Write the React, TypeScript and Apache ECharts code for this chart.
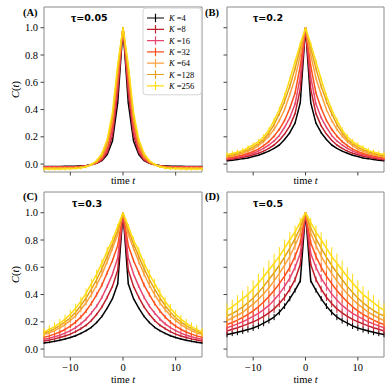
import React, { useEffect, useRef } from "react";
import * as echarts from "echarts";

// ---- data ----
const LAGS = [0, 1, 2, 3, 4, 5, 6, 7, 8, 9, 10, 11, 12, 13, 14, 15];
const K_VALUES = [4, 8, 16, 32, 64, 128, 256];
const COLORS = ["#000000", "#c0202c", "#e8466f", "#ff4f1c", "#ffa040", "#e3a21a", "#ffdc14"];
const TAUS = ["0.05", "0.2", "0.3", "0.5"];
const LETTERS = ["(A)", "(B)", "(C)", "(D)"];
const X_TICKS = [-10, 0, 10];
const Y_TICKS = [0, 0.2, 0.4, 0.6, 0.8, 1.0];

// C(t) for t = 0..15 (curves are symmetric in t)
const A_K4 = [1, 0.45, 0.17, 0.07, 0.025, 0.006, -0.004, -0.01, -0.013, -0.015, -0.016, -0.016, -0.017, -0.017, -0.017, -0.017];
const A_K8 = [1, 0.52, 0.21, 0.085, 0.03, 0.008, -0.005, -0.012, -0.016, -0.018, -0.019, -0.02, -0.02, -0.02, -0.02, -0.02];
const A_K16 = [1, 0.58, 0.25, 0.1, 0.038, 0.01, -0.005, -0.013, -0.018, -0.02, -0.021, -0.022, -0.022, -0.022, -0.022, -0.022];
const A_K32 = [1, 0.63, 0.29, 0.12, 0.046, 0.012, -0.006, -0.015, -0.02, -0.023, -0.024, -0.025, -0.025, -0.025, -0.025, -0.025];
const A_K64 = [1, 0.67, 0.32, 0.14, 0.056, 0.016, -0.005, -0.017, -0.023, -0.026, -0.028, -0.028, -0.029, -0.029, -0.029, -0.029];
const A_K128 = [1, 0.7, 0.35, 0.16, 0.066, 0.02, -0.004, -0.018, -0.025, -0.029, -0.031, -0.032, -0.032, -0.033, -0.033, -0.033];
const A_K256 = [1, 0.73, 0.38, 0.18, 0.078, 0.025, -0.003, -0.019, -0.028, -0.032, -0.034, -0.035, -0.036, -0.036, -0.036, -0.036];

const B_K4 = [1, 0.45, 0.3, 0.23, 0.18, 0.14, 0.115, 0.095, 0.08, 0.065, 0.055, 0.045, 0.04, 0.033, 0.028, 0.024];
const B_K8 = [1, 0.55, 0.37, 0.28, 0.22, 0.175, 0.14, 0.115, 0.095, 0.08, 0.068, 0.058, 0.05, 0.043, 0.037, 0.032];
const B_K16 = [1, 0.64, 0.44, 0.34, 0.27, 0.21, 0.17, 0.14, 0.115, 0.095, 0.08, 0.068, 0.058, 0.05, 0.044, 0.038];
const B_K32 = [1, 0.72, 0.52, 0.41, 0.32, 0.255, 0.205, 0.165, 0.135, 0.11, 0.092, 0.078, 0.067, 0.058, 0.05, 0.044];
const B_K64 = [1, 0.8, 0.63, 0.51, 0.4, 0.32, 0.255, 0.205, 0.165, 0.135, 0.11, 0.093, 0.08, 0.068, 0.06, 0.052];
const B_K128 = [1, 0.85, 0.7, 0.57, 0.46, 0.37, 0.29, 0.23, 0.18, 0.15, 0.125, 0.105, 0.09, 0.078, 0.068, 0.06];
const B_K256 = [1, 0.88, 0.75, 0.62, 0.5, 0.4, 0.32, 0.25, 0.2, 0.165, 0.14, 0.12, 0.1, 0.088, 0.078, 0.07];

const C_K4 = [1, 0.48, 0.37, 0.3, 0.24, 0.195, 0.16, 0.135, 0.115, 0.098, 0.085, 0.074, 0.065, 0.057, 0.05, 0.045];
const C_K8 = [1, 0.58, 0.46, 0.38, 0.31, 0.255, 0.21, 0.175, 0.15, 0.128, 0.11, 0.096, 0.085, 0.075, 0.067, 0.06];
const C_K16 = [1, 0.67, 0.55, 0.46, 0.38, 0.315, 0.265, 0.22, 0.185, 0.158, 0.135, 0.117, 0.102, 0.09, 0.08, 0.072];
const C_K32 = [1, 0.76, 0.65, 0.56, 0.47, 0.4, 0.335, 0.28, 0.235, 0.198, 0.168, 0.144, 0.125, 0.11, 0.097, 0.087];
const C_K64 = [1, 0.84, 0.74, 0.64, 0.55, 0.47, 0.4, 0.34, 0.29, 0.245, 0.21, 0.18, 0.155, 0.135, 0.12, 0.106];
const C_K128 = [1, 0.87, 0.77, 0.68, 0.59, 0.51, 0.44, 0.375, 0.32, 0.27, 0.23, 0.2, 0.172, 0.15, 0.132, 0.117];
const C_K256 = [1, 0.9, 0.8, 0.72, 0.63, 0.55, 0.48, 0.41, 0.35, 0.3, 0.255, 0.22, 0.19, 0.165, 0.145, 0.125];

const D_K4 = [1, 0.5, 0.43, 0.37, 0.315, 0.27, 0.235, 0.21, 0.19, 0.17, 0.155, 0.143, 0.132, 0.123, 0.115, 0.107];
const D_K8 = [1, 0.62, 0.51, 0.44, 0.38, 0.335, 0.295, 0.265, 0.24, 0.218, 0.2, 0.185, 0.17, 0.157, 0.145, 0.133];
const D_K16 = [1, 0.7, 0.6, 0.52, 0.46, 0.405, 0.36, 0.32, 0.29, 0.262, 0.24, 0.22, 0.2, 0.185, 0.17, 0.157];
const D_K32 = [1, 0.78, 0.68, 0.6, 0.535, 0.48, 0.43, 0.385, 0.345, 0.31, 0.28, 0.255, 0.232, 0.212, 0.195, 0.18];
const D_K64 = [1, 0.85, 0.76, 0.68, 0.615, 0.555, 0.5, 0.45, 0.405, 0.365, 0.33, 0.3, 0.27, 0.248, 0.228, 0.21];
const D_K128 = [1, 0.89, 0.81, 0.74, 0.675, 0.615, 0.56, 0.51, 0.46, 0.415, 0.375, 0.34, 0.31, 0.283, 0.26, 0.245];
const D_K256 = [1, 0.93, 0.86, 0.8, 0.74, 0.68, 0.63, 0.58, 0.53, 0.485, 0.44, 0.4, 0.37, 0.34, 0.31, 0.285];

// error bar half-widths for t = 0..15
const EA_K4 = [0, 0.004, 0.004, 0.003, 0.003, 0.003, 0.003, 0.003, 0.003, 0.003, 0.003, 0.003, 0.003, 0.003, 0.003, 0.003];
const EA_K8 = [0, 0.005, 0.005, 0.004, 0.004, 0.004, 0.004, 0.004, 0.004, 0.004, 0.004, 0.004, 0.004, 0.004, 0.004, 0.004];
const EA_K16 = [0, 0.006, 0.006, 0.005, 0.005, 0.005, 0.005, 0.005, 0.005, 0.005, 0.005, 0.005, 0.005, 0.005, 0.005, 0.005];
const EA_K32 = [0, 0.007, 0.007, 0.006, 0.006, 0.006, 0.006, 0.006, 0.006, 0.006, 0.006, 0.006, 0.006, 0.006, 0.006, 0.006];
const EA_K64 = [0, 0.009, 0.008, 0.008, 0.007, 0.007, 0.007, 0.007, 0.007, 0.007, 0.007, 0.007, 0.007, 0.007, 0.007, 0.007];
const EA_K128 = [0, 0.011, 0.01, 0.01, 0.009, 0.009, 0.009, 0.009, 0.009, 0.009, 0.009, 0.009, 0.009, 0.009, 0.009, 0.009];
const EA_K256 = [0, 0.015, 0.014, 0.013, 0.013, 0.012, 0.012, 0.012, 0.012, 0.012, 0.012, 0.012, 0.012, 0.012, 0.012, 0.012];

const EB_K4 = [0, 0.005, 0.005, 0.005, 0.005, 0.005, 0.004, 0.004, 0.004, 0.004, 0.004, 0.004, 0.004, 0.004, 0.004, 0.004];
const EB_K8 = [0, 0.006, 0.006, 0.006, 0.006, 0.006, 0.006, 0.005, 0.005, 0.005, 0.005, 0.005, 0.005, 0.005, 0.005, 0.005];
const EB_K16 = [0, 0.008, 0.008, 0.008, 0.008, 0.008, 0.007, 0.007, 0.007, 0.007, 0.007, 0.007, 0.007, 0.007, 0.007, 0.007];
const EB_K32 = [0, 0.01, 0.01, 0.01, 0.01, 0.01, 0.01, 0.009, 0.009, 0.009, 0.009, 0.009, 0.009, 0.009, 0.009, 0.009];
const EB_K64 = [0, 0.012, 0.012, 0.013, 0.013, 0.013, 0.013, 0.012, 0.012, 0.012, 0.011, 0.011, 0.011, 0.011, 0.011, 0.011];
const EB_K128 = [0, 0.014, 0.015, 0.016, 0.017, 0.017, 0.017, 0.016, 0.016, 0.015, 0.015, 0.014, 0.014, 0.014, 0.014, 0.014];
const EB_K256 = [0, 0.016, 0.018, 0.02, 0.021, 0.021, 0.021, 0.021, 0.02, 0.02, 0.02, 0.019, 0.019, 0.019, 0.019, 0.019];

const EC_K4 = [0, 0.006, 0.007, 0.007, 0.007, 0.007, 0.007, 0.007, 0.007, 0.007, 0.007, 0.007, 0.007, 0.007, 0.007, 0.007];
const EC_K8 = [0, 0.008, 0.009, 0.01, 0.01, 0.01, 0.01, 0.01, 0.01, 0.01, 0.01, 0.01, 0.01, 0.01, 0.01, 0.01];
const EC_K16 = [0, 0.01, 0.011, 0.012, 0.013, 0.013, 0.013, 0.013, 0.013, 0.013, 0.012, 0.012, 0.012, 0.012, 0.012, 0.012];
const EC_K32 = [0, 0.012, 0.014, 0.015, 0.016, 0.016, 0.016, 0.016, 0.016, 0.016, 0.015, 0.015, 0.015, 0.015, 0.015, 0.015];
const EC_K64 = [0, 0.014, 0.017, 0.019, 0.02, 0.021, 0.021, 0.021, 0.021, 0.02, 0.02, 0.02, 0.019, 0.019, 0.019, 0.019];
const EC_K128 = [0, 0.016, 0.02, 0.022, 0.024, 0.025, 0.025, 0.025, 0.025, 0.024, 0.024, 0.023, 0.023, 0.022, 0.022, 0.022];
const EC_K256 = [0, 0.018, 0.024, 0.028, 0.031, 0.033, 0.034, 0.034, 0.034, 0.033, 0.033, 0.032, 0.032, 0.031, 0.031, 0.03];

const ED_K4 = [0, 0.012, 0.016, 0.019, 0.021, 0.022, 0.023, 0.023, 0.023, 0.023, 0.022, 0.022, 0.021, 0.021, 0.02, 0.02];
const ED_K8 = [0, 0.015, 0.02, 0.024, 0.027, 0.029, 0.03, 0.03, 0.03, 0.029, 0.029, 0.028, 0.027, 0.026, 0.025, 0.024];
const ED_K16 = [0, 0.018, 0.024, 0.029, 0.032, 0.034, 0.035, 0.035, 0.035, 0.034, 0.033, 0.032, 0.031, 0.03, 0.029, 0.028];
const ED_K32 = [0, 0.021, 0.029, 0.035, 0.039, 0.041, 0.042, 0.042, 0.041, 0.04, 0.039, 0.038, 0.036, 0.035, 0.034, 0.033];
const ED_K64 = [0, 0.024, 0.034, 0.041, 0.046, 0.049, 0.05, 0.05, 0.049, 0.048, 0.046, 0.045, 0.043, 0.041, 0.039, 0.037];
const ED_K128 = [0, 0.028, 0.04, 0.048, 0.054, 0.057, 0.059, 0.059, 0.058, 0.057, 0.055, 0.053, 0.05, 0.048, 0.046, 0.044];
const ED_K256 = [0, 0.032, 0.046, 0.057, 0.064, 0.068, 0.07, 0.07, 0.069, 0.067, 0.065, 0.062, 0.059, 0.056, 0.053, 0.05];

const MEANS = [
  [A_K4, A_K8, A_K16, A_K32, A_K64, A_K128, A_K256],
  [B_K4, B_K8, B_K16, B_K32, B_K64, B_K128, B_K256],
  [C_K4, C_K8, C_K16, C_K32, C_K64, C_K128, C_K256],
  [D_K4, D_K8, D_K16, D_K32, D_K64, D_K128, D_K256],
];
const ERRS = [
  [EA_K4, EA_K8, EA_K16, EA_K32, EA_K64, EA_K128, EA_K256],
  [EB_K4, EB_K8, EB_K16, EB_K32, EB_K64, EB_K128, EB_K256],
  [EC_K4, EC_K8, EC_K16, EC_K32, EC_K64, EC_K128, EC_K256],
  [ED_K4, ED_K8, ED_K16, ED_K32, ED_K64, ED_K128, ED_K256],
];

// ---- layout ----
const SERIF = "'Liberation Serif', 'DejaVu Serif', serif";
const SANS = "'DejaVu Sans', sans-serif";
const FRAME = "#8a8a8a";
const TICK = "#444";
const GRIDS = [
  { left: 44, top: 7, width: 158, height: 165 },
  { left: 227, top: 7, width: 157, height: 165 },
  { left: 44, top: 192, width: 158, height: 165 },
  { left: 227, top: 192, width: 157, height: 165 },
];

function mirrored(vals: number[]) {
  const out: number[][] = [];
  for (let i = LAGS.length - 1; i > 0; i--) out.push([-LAGS[i], vals[i]]);
  for (let i = 0; i < LAGS.length; i++) out.push([LAGS[i], vals[i]]);
  return out;
}
// error bars: [t, low, high]; points with zero error are skipped
function mirroredErr(vals: number[], errs: number[]) {
  const out: number[][] = [];
  for (let i = LAGS.length - 1; i > 0; i--) if (errs[i] > 0) out.push([-LAGS[i], vals[i] - errs[i], vals[i] + errs[i]]);
  for (let i = 0; i < LAGS.length; i++) if (errs[i] > 0) out.push([LAGS[i], vals[i] - errs[i], vals[i] + errs[i]]);
  return out;
}

const richSerif = (size: number) => ({
  n: { fontFamily: SERIF, fontSize: size, color: "#000" },
  i: { fontFamily: SERIF, fontSize: size, fontStyle: "italic", color: "#000" },
});

function buildOption() {
  const series: any[] = [];
  for (let p = 0; p < 4; p++) {
    for (let k = 0; k < K_VALUES.length; k++) {
      const color = COLORS[k];
      const pts = mirrored(MEANS[p][k]);
      // the curve: one polyline through all data points, placed by the axes' scales
      series.push({
        type: "custom",
        name: `K=${K_VALUES[k]}`,
        xAxisIndex: p,
        yAxisIndex: p,
        data: pts,
        encode: { x: 0, y: 1 },
        itemStyle: { color },
        clip: true,
        silent: true,
        renderItem: (params: any, api: any) => {
          if (params.dataIndex !== 0) return null;
          const points = pts.map((d) => api.coord(d));
          return {
            type: "polyline",
            shape: { points },
            style: { stroke: color, lineWidth: 1.5, fill: null, lineJoin: "round" },
          };
        },
      });
      // its error bars
      series.push({
        type: "custom",
        name: `err-${p}-${k}`,
        xAxisIndex: p,
        yAxisIndex: p,
        data: mirroredErr(MEANS[p][k], ERRS[p][k]),
        encode: { x: 0, y: [1, 2] },
        itemStyle: { color },
        silent: true,
        renderItem: (params: any, api: any) => {
          const t = api.value(0);
          const lo = api.value(1);
          const hi = api.value(2);
          if (!(hi > lo)) return null;
          const a = api.coord([t, lo]);
          const b = api.coord([t, hi]);
          return {
            type: "line",
            shape: { x1: a[0], y1: a[1], x2: b[0], y2: b[1] },
            style: { stroke: color, lineWidth: 1 },
          };
        },
      });
    }
    // outward tick marks (kind 0 = x tick, kind 1 = y tick)
    const tickData: number[][] = [...X_TICKS.map((v) => [v, 0, 0]), ...Y_TICKS.map((v) => [0, v, 1])];
    series.push({
      type: "custom",
      name: `ticks-${p}`,
      xAxisIndex: p,
      yAxisIndex: p,
      data: tickData,
      encode: { x: 0, y: 1 },
      clip: false,
      silent: true,
      renderItem: (params: any, api: any) => {
        const cs = params.coordSys;
        const kind = api.value(2);
        const pt = api.coord([api.value(0), api.value(1)]);
        if (kind === 0) {
          const yb = cs.y + cs.height;
          return { type: "line", shape: { x1: pt[0], y1: yb, x2: pt[0], y2: yb + 3.5 }, style: { stroke: TICK, lineWidth: 1 } };
        }
        return { type: "line", shape: { x1: cs.x - 3.5, y1: pt[1], x2: cs.x, y2: pt[1] }, style: { stroke: TICK, lineWidth: 1 } };
      },
    });
  }

  const xAxis = GRIDS.map((_, p) => ({
    type: "value",
    gridIndex: p,
    min: -15,
    max: 15,
    splitNumber: 3,
    axisLine: { show: false, onZero: false },
    axisTick: { show: false },
    axisLabel: {
      show: p >= 2,
      showMinLabel: false,
      showMaxLabel: false,
      formatter: (v: number) => (v < 0 ? `\u2212${Math.abs(v)}` : `${v}`),
      fontFamily: SERIF,
      fontSize: 10.5,
      color: "#000",
      margin: 5,
    },
    splitLine: { show: false },
    name: "{n|time }{i|t}",
    nameLocation: "middle",
    nameGap: p < 2 ? 3 : 16,
    nameTextStyle: { verticalAlign: "top", fontFamily: SERIF, rich: richSerif(10.5) },
  }));

  const yAxis = GRIDS.map((_, p) => ({
    type: "value",
    gridIndex: p,
    position: "left",
    min: -0.058,
    max: 1.152,
    splitNumber: 5,
    axisLine: { show: false, onZero: false },
    axisTick: { show: false },
    axisLabel: {
      show: p % 2 === 0,
      showMinLabel: false,
      showMaxLabel: false,
      formatter: (v: number) => v.toFixed(1),
      fontFamily: SERIF,
      fontSize: 10.5,
      color: "#000",
      margin: 6,
    },
    splitLine: { show: false },
    name: p % 2 === 0 ? "{i|C}{n|(}{i|t}{n|)}" : "",
    nameLocation: "middle",
    nameGap: 23,
    nameRotate: 90,
    nameTextStyle: { fontFamily: SERIF, rich: richSerif(10.5) },
  }));

  const graphic: any[] = [];
  const letterPos = [[23, 12], [205, 12], [23, 196], [205, 196]];
  const tauPos = [[71, 17.5], [253, 17.5], [72, 203], [253, 203]];
  for (let p = 0; p < 4; p++) {
    graphic.push({
      type: "text",
      x: letterPos[p][0],
      y: letterPos[p][1],
      z: 100,
      style: { text: LETTERS[p], fontFamily: SERIF, fontWeight: "bold", fontSize: 10.5, fill: "#000", verticalAlign: "middle" },
    });
    graphic.push({
      type: "text",
      x: tauPos[p][0],
      y: tauPos[p][1],
      z: 100,
      style: {
        text: `{t|\u03c4}{v|=${TAUS[p]}}`,
        verticalAlign: "middle",
        rich: {
          t: { fontFamily: SERIF, fontWeight: "bold", fontSize: 11.5, fill: "#000" },
          v: { fontFamily: SANS, fontWeight: "bold", fontSize: 9.5, fill: "#000" },
        },
      },
    });
  }

  return {
    animation: false,
    backgroundColor: "#ffffff",
    textStyle: { fontFamily: SERIF },
    grid: GRIDS.map((g) => ({ ...g, show: true, borderColor: FRAME, borderWidth: 1, backgroundColor: "transparent" })),
    xAxis,
    yAxis,
    legend: {
      data: K_VALUES.map((k) => `K=${k}`),
      orient: "vertical",
      left: 143,
      top: 8,
      itemWidth: 17,
      itemHeight: 10,
      itemGap: 1.3,
      icon: "path://M0,4.3H20V5.7H0Z M9.3,0H10.7V10H9.3Z",
      padding: [5, 7, 4, 4],
      backgroundColor: "rgba(255,255,255,0.85)",
      borderColor: "#d4d4d4",
      borderWidth: 1,
      borderRadius: 3,
      selectedMode: false,
      z: 50,
      formatter: (name: string) => `{i|K} {n|=${name.slice(2)}}`,
      textStyle: {
        fontFamily: SERIF,
        fontSize: 8.5,
        color: "#000",
        lineHeight: 10,
        rich: {
          i: { fontFamily: SERIF, fontSize: 8.5, fontStyle: "italic", lineHeight: 10 },
          n: { fontFamily: SERIF, fontSize: 8.5, lineHeight: 10 },
        },
      },
    },
    graphic,
    series,
  };
}

export default function App() {
  const ref = useRef<HTMLDivElement>(null);
  useEffect(() => {
    if (!ref.current) return;
    const chart = echarts.init(ref.current, null, { renderer: "svg" });
    chart.setOption(buildOption() as any);
    return () => chart.dispose();
  }, []);
  return <div ref={ref} style={{ position: "fixed", left: 0, top: 0, width: 390, height: 390, background: "#fff" }} />;
}
